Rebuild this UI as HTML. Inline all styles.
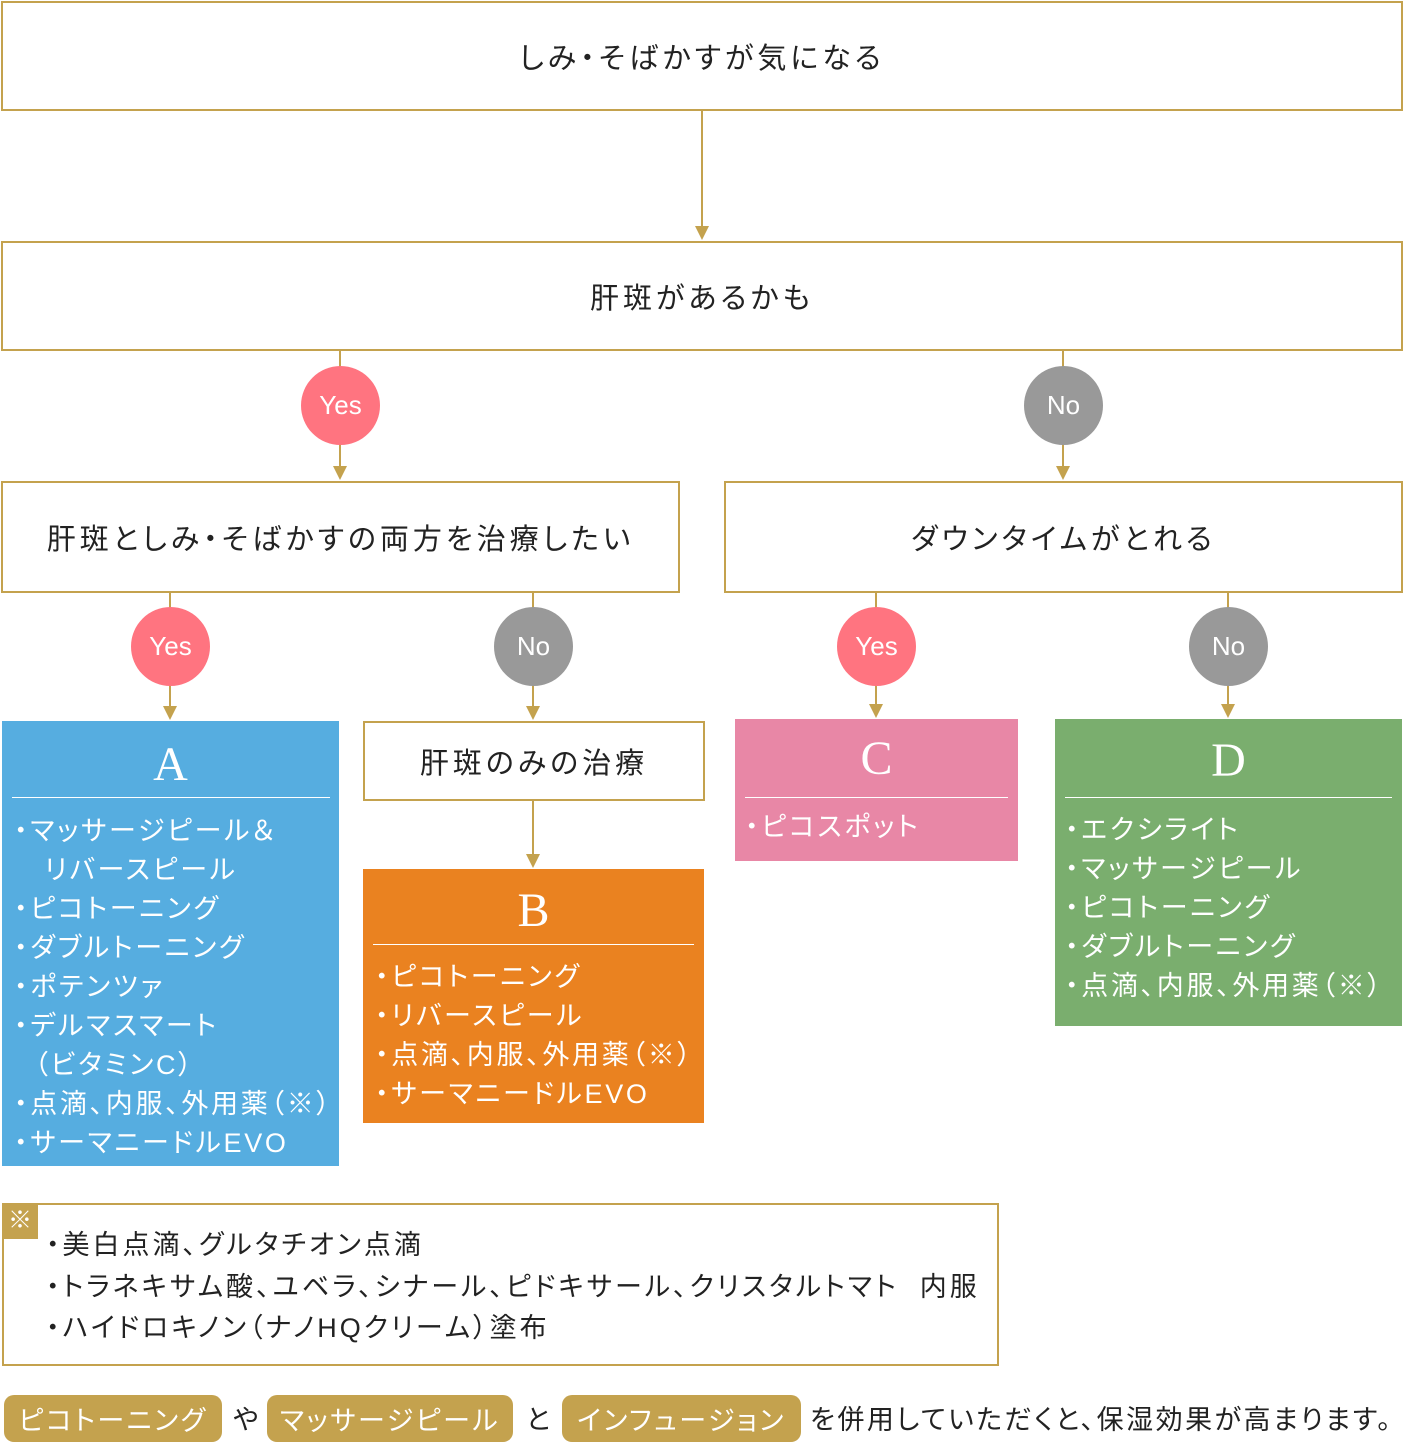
<!DOCTYPE html>
<html><head><meta charset="utf-8"><style>
*{margin:0;padding:0;box-sizing:border-box}
body{width:1403px;height:1443px;background:#fff;position:relative;overflow:hidden;font-family:"Liberation Sans","Noto Sans CJK JP",sans-serif;color:#222;font-feature-settings:"palt"}
.b{position:absolute;border:2px solid #c4a24e;background:#fff;display:flex;align-items:center;justify-content:center;font-size:29px;letter-spacing:4px}
.c{position:absolute;width:79px;height:79px;border-radius:50%;color:#fff;font-size:26px;display:flex;align-items:center;justify-content:center;font-family:"Liberation Sans",sans-serif}
.y{background:#ff7480}.n{background:#999}
.r{position:absolute;color:#fff}
.r h2{font-family:"Liberation Serif",serif;font-weight:normal;font-size:48px;text-align:center;line-height:1}
.r hr{border:0;border-top:1.5px solid #fff;position:absolute}
.r ul{list-style:none;position:absolute;font-size:27px;line-height:39px;white-space:nowrap;letter-spacing:2.7px}
.pill{position:absolute;top:1395px;height:47px;background:#c4a24e;color:#fff;border-radius:10px;font-size:27px;display:flex;align-items:center;justify-content:center;letter-spacing:2.5px}
.t{position:absolute;top:1398px;font-size:27px;letter-spacing:2.5px}
</style></head><body>
<svg style="position:absolute;left:0;top:0" width="1403" height="1443">
<g stroke="#c4a24e" stroke-width="2" fill="none">
<line x1="702" y1="110" x2="702" y2="232"/>
<line x1="340" y1="350" x2="340" y2="472"/>
<line x1="1063" y1="350" x2="1063" y2="472"/>
<line x1="170" y1="592" x2="170" y2="712"/>
<line x1="533" y1="592" x2="533" y2="712"/>
<line x1="876" y1="592" x2="876" y2="710"/>
<line x1="1228" y1="592" x2="1228" y2="710"/>
<line x1="533" y1="800" x2="533" y2="860"/>
</g>
<g fill="#c4a24e">
<path d="M695 226h14l-7 14z"/>
<path d="M333 466h14l-7 14z"/>
<path d="M1056 466h14l-7 14z"/>
<path d="M163 706h14l-7 14z"/>
<path d="M526 706h14l-7 14z"/>
<path d="M869 704h14l-7 14z"/>
<path d="M1221 704h14l-7 14z"/>
<path d="M526 854h14l-7 14z"/>
</g>
</svg>
<div class="b" style="left:1px;top:1px;width:1402px;height:110px">しみ・そばかすが気になる</div>
<div class="b" style="left:1px;top:241px;width:1402px;height:110px">肝斑があるかも</div>
<div class="c y" style="left:301px;top:366px">Yes</div>
<div class="c n" style="left:1024px;top:366px">No</div>
<div class="b" style="left:1px;top:481px;width:679px;height:112px">肝斑としみ・そばかすの両方を治療したい</div>
<div class="b" style="left:724px;top:481px;width:679px;height:112px">ダウンタイムがとれる</div>
<div class="c y" style="left:131px;top:607px">Yes</div>
<div class="c n" style="left:494px;top:607px">No</div>
<div class="c y" style="left:837px;top:607px">Yes</div>
<div class="c n" style="left:1189px;top:607px">No</div>

<div class="r" style="left:2px;top:721px;width:337px;height:445px;background:#56ade0">
<h2 style="margin-top:20px">A</h2><hr style="left:10px;width:318px;top:76px">
<ul style="left:12px;top:91px"><li>・マッサージピール＆</li><li>&nbsp;&nbsp;&nbsp;リバースピール</li><li>・ピコトーニング</li><li>・ダブルトーニング</li><li>・ポテンツァ</li><li>・デルマスマート</li><li>&nbsp;&nbsp;（ビタミンC）</li><li>・点滴、内服、外用薬（※）</li><li>・サーマニードルEVO</li></ul></div>

<div class="b" style="left:363px;top:721px;width:342px;height:80px">肝斑のみの治療</div>
<div class="r" style="left:363px;top:869px;width:341px;height:254px;background:#ea8220">
<h2 style="margin-top:18px">B</h2><hr style="left:10px;width:321px;top:75px">
<ul style="left:12px;top:89px"><li>・ピコトーニング</li><li>・リバースピール</li><li>・点滴、内服、外用薬（※）</li><li>・サーマニードルEVO</li></ul></div>

<div class="r" style="left:735px;top:719px;width:283px;height:142px;background:#e887a6">
<h2 style="margin-top:16px">C</h2><hr style="left:10px;width:263px;top:78px">
<ul style="left:10px;top:89px"><li>・ピコスポット</li></ul></div>

<div class="r" style="left:1055px;top:719px;width:347px;height:307px;background:#7aae6e">
<h2 style="margin-top:18px">D</h2><hr style="left:10px;width:327px;top:78px">
<ul style="left:10px;top:92px"><li>・エクシライト</li><li>・マッサージピール</li><li>・ピコトーニング</li><li>・ダブルトーニング</li><li>・点滴、内服、外用薬（※）</li></ul></div>

<div style="position:absolute;left:2px;top:1203px;width:997px;height:163px;border:2px solid #c4a24e"></div>
<div style="position:absolute;left:2px;top:1203px;width:36px;height:36px;background:#c4a24e;color:#fff;font-size:24px;line-height:36px;text-align:center">※</div>
<div style="position:absolute;left:46px;top:1225px;font-size:27px;line-height:41.5px;white-space:nowrap;letter-spacing:3px">・美白点滴、グルタチオン点滴<br>・トラネキサム酸、ユベラ、シナール、ピドキサール、クリスタルトマト&nbsp;&nbsp;内服<br>・ハイドロキノン（ナノHQクリーム）塗布</div>

<div class="pill" style="left:4px;width:218px">ピコトーニング</div>
<div class="t" style="left:233px">や</div>
<div class="pill" style="left:267px;width:246px">マッサージピール</div>
<div class="t" style="left:526px">と</div>
<div class="pill" style="left:562px;width:239px">インフュージョン</div>
<div class="t" style="left:810px;white-space:nowrap">を併用していただくと、保湿効果が高まります。</div>
</body></html>
